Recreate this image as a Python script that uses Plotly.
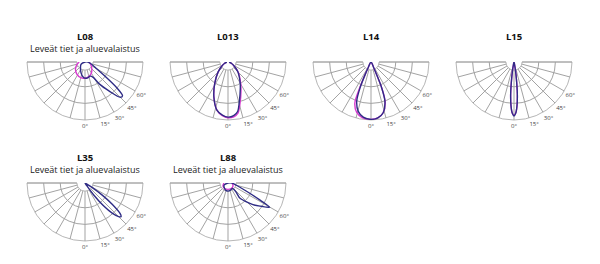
import plotly.graph_objects as go

# ---------------- data ----------------
titles = ["L08", "L013", "L14", "L15", "L35", "L88"]
subtitles = ["Leveät tiet ja aluevalaistus", "", "", "",
             "Leveät tiet ja aluevalaistus", "Leveät tiet ja aluevalaistus"]

# angular grid every 15 degrees over the lower half (expressed as 270..450 = -90..+90)
tick_angles = list(range(270, 451, 15))
tick_labels = {360: "0°", 375: "15°", 390: "30°", 405: "45°", 420: "60°"}

# angles in degrees (0 = straight down, positive = to the right), r = fraction of outer ring
l08_blue_theta = [0, -60, -20, -5, 8, 20, 28, 33, 40, 45, 48, 51, 55, 62, 75, 90, 0]
l08_blue_r     = [0, 0.08, 0.2, 0.27, 0.28, 0.26, 0.3, 0.45, 0.66, 0.86, 0.87, 0.7, 0.4, 0.2, 0.1, 0.05, 0]
l08_mag_theta  = [-90, -75, -55, -35, -15, 0, 15, 30, 50, 70, 90]
l08_mag_r      = [0.1, 0.14, 0.2, 0.25, 0.28, 0.28, 0.26, 0.22, 0.15, 0.1, 0.07]

l013_blue_theta = [-90, -70, -58, -45, -32, -22, -13, -6, 0, 6, 11, 17, 24, 30, 45, 58, 70, 90]
l013_blue_r     = [0.02, 0.06, 0.12, 0.24, 0.43, 0.65, 0.85, 0.92, 0.95, 0.93, 0.87, 0.68, 0.52, 0.42, 0.24, 0.12, 0.06, 0.02]
l013_mag_theta  = [-90, -70, -58, -45, -32, -22, -13, -6, 0, 6, 11, 17, 24, 30, 45, 58, 70, 90]
l013_mag_r      = [0.02, 0.06, 0.12, 0.24, 0.43, 0.65, 0.85, 0.93, 0.96, 0.95, 0.9, 0.72, 0.55, 0.44, 0.25, 0.12, 0.06, 0.02]

l14_blue_theta = [0, -26, -25, -23, -20, -14.5, -8, 0, 7, 13.5, 19.5, 22.5, 24, 26, 0]
l14_blue_r     = [0, 0.12, 0.24, 0.48, 0.72, 0.88, 0.96, 0.99, 0.97, 0.9, 0.72, 0.48, 0.24, 0.1, 0]
l14_mag_theta  = [0, -26, -25, -23.5, -21.5, -16, -9, 0, 7, 13.5, 19.5, 22.5, 24, 26, 0]
l14_mag_r      = [0, 0.12, 0.24, 0.5, 0.76, 0.9, 0.97, 0.99, 0.97, 0.9, 0.73, 0.48, 0.24, 0.1, 0]

l15_blue_theta = [0, -12, -10, -8, -6, -4, -2, 0, 2, 4, 6, 8, 10, 12, 0]
l15_blue_r     = [0, 0.05, 0.15, 0.3, 0.55, 0.75, 0.88, 0.93, 0.88, 0.75, 0.55, 0.3, 0.15, 0.05, 0]
l15_mag_theta  = [0, -12, -10, -8, -6, -4, -2, 0, 2, 4, 6, 8, 10, 12, 0]
l15_mag_r      = [0, 0.05, 0.15, 0.3, 0.55, 0.75, 0.88, 0.92, 0.88, 0.75, 0.55, 0.3, 0.15, 0.05, 0]

l35_blue_theta = [0, 33, 36, 39, 42, 45, 47, 49, 52, 55, 58, 60, 0]
l35_blue_r     = [0, 0.05, 0.25, 0.5, 0.7, 0.82, 0.85, 0.8, 0.6, 0.35, 0.12, 0.03, 0]

l88_blue_theta = [0, -60, -20, 0, 20, 40, 42, 40, 38, 49, 55, 59.8, 62, 66, 75, 90, 0]
l88_blue_r     = [0, 0.08, 0.13, 0.14, 0.13, 0.12, 0.2, 0.25, 0.33, 0.57, 0.7, 0.83, 0.62, 0.35, 0.15, 0.07, 0]
l88_mag_theta  = [-90, -60, -30, 0, 30, 60, 90]
l88_mag_r      = [0.07, 0.1, 0.11, 0.11, 0.11, 0.1, 0.07]

blue_series = [(l08_blue_theta, l08_blue_r), (l013_blue_theta, l013_blue_r),
               (l14_blue_theta, l14_blue_r), (l15_blue_theta, l15_blue_r),
               (l35_blue_theta, l35_blue_r), (l88_blue_theta, l88_blue_r)]
mag_series = [(l08_mag_theta, l08_mag_r), (l013_mag_theta, l013_mag_r),
              (l14_mag_theta, l14_mag_r), (l15_mag_theta, l15_mag_r),
              None, (l88_mag_theta, l88_mag_r)]

# ---------------- styling / layout ----------------
W, H = 600, 264
BLUE = "#2f2c85"
MAGENTA = "#d83ad0"
GRID = "#a3a3a3"
FONT = "Open Sans"
R = 58
centers = [(85, 62), (228, 62), (371, 62), (514, 62), (85, 183), (228, 183)]

fig = go.Figure()
layout = {}
annotations = []

for i, (cx, cy) in enumerate(centers):
    gname = "polar" if i == 0 else f"polar{2*i+1}"
    gref = "polar" if i == 0 else f"polar{2*i+1}"
    dname = f"polar{2*i+2}"
    dom = dict(x=[(cx - R) / W, (cx + R) / W], y=[1 - (cy + R) / H, 1 - cy / H])
    ticktext = [tick_labels.get(a, "") for a in tick_angles]
    layout[gname] = dict(
        domain=dom, sector=[180, 360], hole=0.14, bgcolor="rgba(0,0,0,0)",
        radialaxis=dict(range=[0, 3], tickvals=[1, 2, 3], showticklabels=False,
                        ticks="", showline=False, gridcolor=GRID, gridwidth=0.7),
        angularaxis=dict(rotation=-90, direction="counterclockwise",
                         tickmode="array", tickvals=tick_angles, ticktext=ticktext,
                         ticks="", showline=True, linecolor=GRID, linewidth=0.8,
                         gridcolor=GRID, gridwidth=0.7,
                         tickfont=dict(size=6, color="#444", family=FONT)),
    )
    layout[dname] = dict(
        domain=dom, sector=[180, 360], bgcolor="rgba(0,0,0,0)",
        radialaxis=dict(range=[0, 1], visible=False),
        angularaxis=dict(rotation=-90, direction="counterclockwise", visible=False),
    )
    # invisible trace so that the grid subplot is rendered
    fig.add_trace(go.Scatterpolar(theta=[0], r=[0], mode="markers", subplot=gref,
                                  marker=dict(size=1, opacity=0), showlegend=False,
                                  hoverinfo="skip"))
    if mag_series[i] is not None:
        th, rr = mag_series[i]
        fig.add_trace(go.Scatterpolar(theta=th, r=rr, mode="lines", subplot=dname,
                                      line=dict(color=MAGENTA, width=1.4, shape="spline", smoothing=0.8),
                                      showlegend=False, hoverinfo="skip"))
    th, rr = blue_series[i]
    fig.add_trace(go.Scatterpolar(theta=th, r=rr, mode="lines", subplot=dname,
                                  line=dict(color=BLUE, width=1.4, shape="spline", smoothing=0.8),
                                  showlegend=False, hoverinfo="skip"))
    # titles
    annotations.append(dict(x=cx / W, y=1 - (cy - 26) / H, xref="paper", yref="paper",
                            xanchor="center", yanchor="middle",
                            text=f"<b>{titles[i]}</b>", showarrow=False,
                            font=dict(size=9.5, color="#111", family=FONT)))
    if subtitles[i]:
        annotations.append(dict(x=cx / W, y=1 - (cy - 14) / H, xref="paper", yref="paper",
                                xanchor="center", yanchor="middle",
                                text=subtitles[i], showarrow=False,
                                font=dict(size=9, color="#222", family=FONT)))

fig.update_layout(width=W, height=H, margin=dict(l=0, r=0, t=0, b=0),
                  paper_bgcolor="white", plot_bgcolor="white",
                  annotations=annotations, showlegend=False, **layout)

fig.write_html("out.html")
